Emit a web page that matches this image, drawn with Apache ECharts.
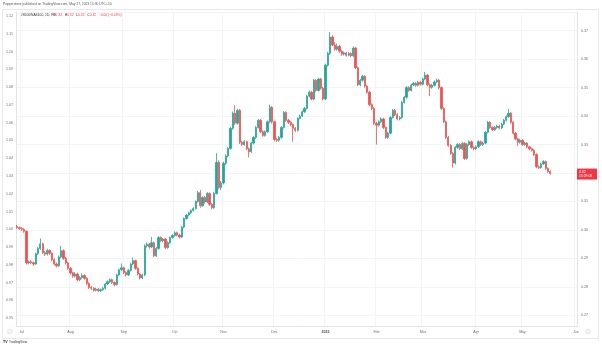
<!DOCTYPE html>
<html>
<head>
<meta charset="utf-8">
<script src="https://cdn.jsdelivr.net/npm/echarts@6/dist/echarts.min.js"></script>
<style>html,body{margin:0;padding:0;background:#fff;}#c{width:602px;height:348px;}</style>
</head>
<body>
<div id="c"></div>
<script>
// ---- data (daily bars, US500/NAS100 ratio) ----
const firstBarDate = '2022-06-29';
const totalSlots = 242; // weekdays shown on the time scale (incl. empty future space)
const monthLabels = ['2023','Feb','Mar','Apr','May','Jun','Jul','Aug','Sep','Oct','Nov','Dec'];
const leftTicksRange = [0.94561, 1.12222];
const rightTicksRange = [0.26624, 0.37657];
const countdownText = '15:29:08';

const opens = [
0.3012,0.3008,0.3005,0.3002,0.2995,0.2884,0.2888,0.2885,0.2880,0.2916,
0.2935,0.2951,0.2920,0.2915,0.2928,0.2918,0.2895,0.2880,0.2874,0.2905,
0.2927,0.2900,0.2884,0.2865,0.2849,0.2838,0.2845,0.2825,0.2832,0.2840,
0.2830,0.2812,0.2798,0.2795,0.2788,0.2792,0.2786,0.2790,0.2795,0.2810,
0.2818,0.2825,0.2815,0.2808,0.2842,0.2860,0.2867,0.2850,0.2842,0.2858,
0.2880,0.2892,0.2865,0.2845,0.2831,0.2842,0.2944,0.2950,0.2940,0.2955,
0.2909,0.2935,0.2973,0.2962,0.2968,0.2938,0.2955,0.2973,0.2980,0.2990,
0.2982,0.2975,0.3010,0.3040,0.3052,0.3060,0.3068,0.3075,0.3100,0.3131,
0.3085,0.3114,0.3098,0.3128,0.3090,0.3078,0.3128,0.3237,0.3149,0.3165,
0.3234,0.3260,0.3286,0.3357,0.3410,0.3375,0.3420,0.3308,0.3300,0.3310,
0.3285,0.3275,0.3305,0.3325,0.3360,0.3385,0.3345,0.3332,0.3345,0.3380,
0.3431,0.3380,0.3318,0.3315,0.3325,0.3360,0.3413,0.3385,0.3378,0.3370,
0.3357,0.3350,0.3392,0.3400,0.3415,0.3427,0.3470,0.3484,0.3460,0.3526,
0.3490,0.3530,0.3498,0.3460,0.3579,0.3620,0.3678,0.3650,0.3635,0.3645,
0.3628,0.3618,0.3622,0.3614,0.3620,0.3612,0.3639,0.3570,0.3510,0.3526,
0.3540,0.3505,0.3484,0.3440,0.3427,0.3375,0.3368,0.3380,0.3390,0.3360,
0.3325,0.3340,0.3395,0.3420,0.3405,0.3390,0.3395,0.3448,0.3466,0.3500,
0.3490,0.3509,0.3515,0.3508,0.3519,0.3512,0.3530,0.3544,0.3510,0.3501,
0.3508,0.3520,0.3526,0.3500,0.3427,0.3380,0.3325,0.3297,0.3269,0.3235,
0.3290,0.3300,0.3285,0.3304,0.3251,0.3300,0.3310,0.3290,0.3285,0.3292,
0.3310,0.3300,0.3305,0.3343,0.3378,0.3360,0.3352,0.3360,0.3365,0.3358,
0.3372,0.3385,0.3398,0.3410,0.3378,0.3340,0.3320,0.3308,0.3315,0.3300,
0.3305,0.3292,0.3285,0.3280,0.3265,0.3222,0.3219,0.3232,0.3240,0.3216,
0.3205];
const closes = [
0.3008,0.3005,0.3002,0.2995,0.2884,0.2888,0.2885,0.2880,0.2916,0.2935,
0.2951,0.2920,0.2915,0.2928,0.2918,0.2895,0.2880,0.2874,0.2905,0.2927,
0.2900,0.2884,0.2865,0.2849,0.2838,0.2845,0.2825,0.2832,0.2840,0.2830,
0.2812,0.2798,0.2795,0.2788,0.2792,0.2786,0.2790,0.2795,0.2810,0.2818,
0.2825,0.2815,0.2808,0.2842,0.2860,0.2867,0.2850,0.2842,0.2858,0.2880,
0.2892,0.2865,0.2845,0.2831,0.2842,0.2944,0.2950,0.2940,0.2955,0.2909,
0.2935,0.2973,0.2962,0.2968,0.2938,0.2955,0.2973,0.2980,0.2990,0.2982,
0.2975,0.3010,0.3040,0.3052,0.3060,0.3068,0.3075,0.3100,0.3131,0.3085,
0.3114,0.3098,0.3128,0.3090,0.3078,0.3128,0.3237,0.3149,0.3165,0.3234,
0.3260,0.3286,0.3357,0.3410,0.3375,0.3420,0.3308,0.3300,0.3310,0.3285,
0.3275,0.3305,0.3325,0.3360,0.3385,0.3345,0.3332,0.3345,0.3380,0.3431,
0.3380,0.3318,0.3315,0.3325,0.3360,0.3413,0.3385,0.3378,0.3370,0.3357,
0.3350,0.3392,0.3400,0.3415,0.3427,0.3470,0.3484,0.3460,0.3526,0.3490,
0.3530,0.3498,0.3460,0.3579,0.3620,0.3678,0.3650,0.3635,0.3645,0.3628,
0.3618,0.3622,0.3614,0.3620,0.3612,0.3639,0.3570,0.3510,0.3526,0.3540,
0.3505,0.3484,0.3440,0.3427,0.3375,0.3368,0.3380,0.3390,0.3360,0.3325,
0.3340,0.3395,0.3420,0.3405,0.3390,0.3395,0.3448,0.3466,0.3500,0.3490,
0.3509,0.3515,0.3508,0.3519,0.3512,0.3530,0.3544,0.3510,0.3501,0.3508,
0.3520,0.3526,0.3500,0.3427,0.3380,0.3325,0.3297,0.3269,0.3235,0.3290,
0.3300,0.3285,0.3304,0.3251,0.3300,0.3310,0.3290,0.3285,0.3292,0.3310,
0.3300,0.3305,0.3343,0.3378,0.3360,0.3352,0.3360,0.3365,0.3358,0.3372,
0.3385,0.3398,0.3410,0.3378,0.3340,0.3320,0.3308,0.3315,0.3300,0.3305,
0.3292,0.3285,0.3280,0.3265,0.3222,0.3219,0.3232,0.3240,0.3216,0.3205,
0.3198];
const lows = [
0.3004,0.3000,0.2996,0.2990,0.2878,0.2879,0.2880,0.2874,0.2877,0.2912,
0.2930,0.2915,0.2908,0.2910,0.2912,0.2890,0.2875,0.2868,0.2870,0.2900,
0.2895,0.2878,0.2860,0.2843,0.2832,0.2833,0.2819,0.2820,0.2828,0.2825,
0.2806,0.2792,0.2789,0.2783,0.2784,0.2781,0.2782,0.2786,0.2791,0.2806,
0.2813,0.2810,0.2802,0.2804,0.2838,0.2855,0.2845,0.2836,0.2838,0.2854,
0.2876,0.2860,0.2840,0.2826,0.2827,0.2838,0.2938,0.2934,0.2936,0.2904,
0.2905,0.2931,0.2957,0.2957,0.2933,0.2934,0.2951,0.2969,0.2976,0.2977,
0.2970,0.2971,0.3006,0.3036,0.3048,0.3056,0.3064,0.3071,0.3096,0.3078,
0.3081,0.3092,0.3094,0.3084,0.3072,0.3074,0.3124,0.3143,0.3140,0.3160,
0.3228,0.3255,0.3282,0.3352,0.3368,0.3370,0.3302,0.3294,0.3295,0.3280,
0.3255,0.3270,0.3300,0.3320,0.3356,0.3340,0.3327,0.3328,0.3341,0.3376,
0.3374,0.3312,0.3309,0.3310,0.3320,0.3356,0.3380,0.3372,0.3364,0.3310,
0.3344,0.3346,0.3388,0.3396,0.3411,0.3423,0.3466,0.3455,0.3456,0.3485,
0.3486,0.3493,0.3455,0.3456,0.3574,0.3615,0.3645,0.3630,0.3630,0.3622,
0.3612,0.3613,0.3609,0.3610,0.3607,0.3608,0.3565,0.3505,0.3505,0.3521,
0.3500,0.3479,0.3435,0.3421,0.3369,0.3300,0.3363,0.3375,0.3354,0.3320,
0.3320,0.3336,0.3391,0.3400,0.3385,0.3385,0.3391,0.3444,0.3462,0.3485,
0.3486,0.3505,0.3503,0.3504,0.3507,0.3508,0.3526,0.3505,0.3470,0.3496,
0.3504,0.3516,0.3495,0.3422,0.3375,0.3320,0.3292,0.3264,0.3219,0.3230,
0.3285,0.3280,0.3280,0.3246,0.3247,0.3295,0.3285,0.3280,0.3280,0.3288,
0.3295,0.3295,0.3301,0.3339,0.3355,0.3347,0.3348,0.3355,0.3353,0.3354,
0.3368,0.3381,0.3394,0.3373,0.3335,0.3315,0.3295,0.3303,0.3295,0.3296,
0.3287,0.3280,0.3275,0.3260,0.3217,0.3214,0.3215,0.3228,0.3211,0.3200,
0.3194];
const highs = [
0.3018,0.3012,0.3010,0.3006,0.2998,0.2893,0.2894,0.2889,0.2920,0.2940,
0.2970,0.2955,0.2926,0.2934,0.2932,0.2922,0.2900,0.2886,0.2910,0.2944,
0.2932,0.2905,0.2888,0.2870,0.2853,0.2852,0.2850,0.2838,0.2848,0.2844,
0.2834,0.2816,0.2803,0.2799,0.2797,0.2796,0.2794,0.2799,0.2814,0.2823,
0.2830,0.2829,0.2819,0.2846,0.2864,0.2882,0.2871,0.2855,0.2862,0.2884,
0.2903,0.2896,0.2869,0.2849,0.2846,0.2950,0.2956,0.2954,0.2975,0.2959,
0.2940,0.2978,0.2977,0.2972,0.2972,0.2960,0.2977,0.2985,0.2995,0.2994,
0.2987,0.3014,0.3044,0.3056,0.3064,0.3072,0.3080,0.3104,0.3137,0.3140,
0.3118,0.3120,0.3133,0.3132,0.3095,0.3133,0.3270,0.3245,0.3172,0.3240,
0.3266,0.3292,0.3362,0.3416,0.3438,0.3426,0.3425,0.3314,0.3316,0.3314,
0.3290,0.3310,0.3330,0.3365,0.3390,0.3390,0.3350,0.3350,0.3385,0.3440,
0.3435,0.3384,0.3324,0.3330,0.3365,0.3418,0.3417,0.3390,0.3383,0.3374,
0.3362,0.3396,0.3405,0.3420,0.3432,0.3475,0.3490,0.3488,0.3531,0.3530,
0.3535,0.3534,0.3502,0.3584,0.3626,0.3695,0.3684,0.3660,0.3655,0.3650,
0.3633,0.3627,0.3626,0.3625,0.3624,0.3645,0.3643,0.3574,0.3531,0.3545,
0.3544,0.3509,0.3488,0.3445,0.3431,0.3380,0.3385,0.3396,0.3394,0.3364,
0.3345,0.3400,0.3425,0.3425,0.3410,0.3400,0.3453,0.3471,0.3505,0.3505,
0.3514,0.3520,0.3520,0.3524,0.3523,0.3535,0.3555,0.3548,0.3515,0.3513,
0.3525,0.3532,0.3530,0.3504,0.3431,0.3384,0.3330,0.3301,0.3273,0.3295,
0.3306,0.3305,0.3310,0.3308,0.3305,0.3315,0.3314,0.3295,0.3297,0.3315,
0.3314,0.3310,0.3348,0.3383,0.3382,0.3364,0.3365,0.3370,0.3369,0.3377,
0.3390,0.3403,0.3425,0.3414,0.3382,0.3344,0.3324,0.3320,0.3319,0.3310,
0.3309,0.3296,0.3289,0.3284,0.3269,0.3227,0.3237,0.3245,0.3244,0.3220,
0.3209];

// ---- categories: weekdays from the first bar ----
const dates = [];
(function(){
  const p = firstBarDate.split('-').map(Number);
  const d = new Date(Date.UTC(p[0], p[1]-1, p[2]));
  while (dates.length < totalSlots) {
    const wd = d.getUTCDay();
    if (wd !== 0 && wd !== 6) dates.push(d.toISOString().slice(0,10));
    d.setUTCDate(d.getUTCDate()+1);
  }
})();
function isMonthStart(i){
  if (i <= 0) return false;
  return dates[i].slice(5,7) !== dates[i-1].slice(5,7);
}
const candles = closes.map((c,i)=>[opens[i], c, lows[i], highs[i]]);
const lastClose = closes[closes.length-1];

const UP = '#26a69a', DOWN = '#ef5350';
const FONT = 'Liberation Sans, Arial, sans-serif';
const chart = echarts.init(document.getElementById('c'), null, {renderer:'canvas'});
const baseGraphic = [
  {type: 'rect', shape: {x: 2.5, y: 9.5, width: 596, height: 329}, style: {fill: 'none', stroke: '#e6e8ee', lineWidth: 1}, silent: true, z: -1},
  {type: 'text', left: 3, top: 3, style: {text: 'Pepperstone published on TradingView.com, May 17, 2023 15:30 UTC+10', fontSize: 3.3, fill: '#555', fontFamily: FONT}},
  {type: 'text', left: 20, top: 13.5, style: {text: 'US500/NAS100, 1D, FX', fontSize: 3.3, fill: '#333', fontFamily: FONT}},
  {type: 'text', left: 53, top: 13.5, style: {
    text: 'O{r|0.32}   H{r|0.32}   L{r|0.32}   C{r|0.32}   {r|\u22120.00 (\u22120.03%)}',
    fontSize: 3.3, fill: '#333', fontFamily: FONT,
    rich: {r: {fill: '#f23645', fontSize: 3.3, fontFamily: FONT}}
  }},
  {type: 'circle', shape: {cx: 10, cy: 331.5, r: 2.5}, style: {fill: '#f0f3fa', stroke: '#d6d9e0', lineWidth: 0.5}},
  {type: 'circle', shape: {cx: 588, cy: 331.5, r: 2.5}, style: {fill: '#f0f3fa', stroke: '#d6d9e0', lineWidth: 0.5}},
  {type: 'text', left: 3, top: 340, style: {text: 'TV', fontSize: 3.6, fontWeight: 'bold', fill: '#131722', fontFamily: FONT}},
  {type: 'text', left: 9, top: 340.2, style: {text: 'TradingView', fontSize: 3.3, fill: '#333', fontFamily: FONT}}
];
chart.setOption({
  animation: false,
  backgroundColor: '#ffffff',
  grid: {left: 16, right: 25, top: 12, bottom: 22, containLabel: false},
  xAxis: {
    type: 'category', data: dates, boundaryGap: true,
    axisLine: {show: true, lineStyle: {color: '#e0e3eb', width: 1}},
    axisTick: {show: false},
    axisLabel: {
      interval: (i)=>isMonthStart(i),
      fontSize: 3.6, color: '#6a6d78', fontFamily: FONT, margin: 4,
      formatter: (v)=>{ const m = +v.slice(5,7); const t = monthLabels[m-1]; return m===1 ? '{b|'+t+'}' : t; },
      rich: {b: {fontWeight: 'bold', fontSize: 3.6, color: '#4a4d58', fontFamily: FONT}}
    },
    splitLine: {show: true, interval: (i)=>isMonthStart(i), lineStyle: {color: '#f2f4f8', width: 1}}
  },
  yAxis: [
    {
      type: 'value', position: 'left', min: leftTicksRange[0], max: leftTicksRange[1],
      splitNumber: 18, minInterval: 0.01, maxInterval: 0.01,
      axisLine: {show: true, lineStyle: {color: '#e0e3eb'}},
      axisTick: {show: false}, splitLine: {show: false},
      axisLabel: {showMinLabel: false, showMaxLabel: false, fontSize: 3.6, color: '#6a6d78', fontFamily: FONT, margin: 3,
        formatter: v=>v.toFixed(2)}
    },
    {
      type: 'value', position: 'right', min: rightTicksRange[0], max: rightTicksRange[1],
      splitNumber: 11, minInterval: 0.01, maxInterval: 0.01,
      axisLine: {show: true, lineStyle: {color: '#e0e3eb'}},
      axisTick: {show: false},
      splitLine: {show: true, lineStyle: {color: '#f2f4f8', width: 1}},
      axisLabel: {showMinLabel: false, showMaxLabel: false, fontSize: 3.6, color: '#6a6d78', fontFamily: FONT, margin: 4,
        formatter: v=>v.toFixed(2)}
    }
  ],
  series: [{
    type: 'candlestick', yAxisIndex: 1, data: candles,
    barWidth: 1.8,
    itemStyle: {color: UP, color0: DOWN, borderColor: UP, borderColor0: DOWN, borderWidth: 0.8}
  }],
  graphic: baseGraphic
});
// last-price tag on the right scale, positioned through the axis scale
const py = chart.convertToPixel({yAxisIndex: 1}, lastClose);
chart.setOption({graphic: baseGraphic.concat([
  {type: 'rect', shape: {x: 577, y: py - 5, width: 20, height: 11}, style: {fill: '#f23645'}, z: 10},
  {type: 'text', left: 579, top: py - 4.2, z: 11, style: {text: lastClose.toFixed(2) + '\n' + countdownText, fontSize: 3.4, lineHeight: 4.4, fill: '#ffffff', fontFamily: FONT}}
])});
</script>
</body>
</html>
